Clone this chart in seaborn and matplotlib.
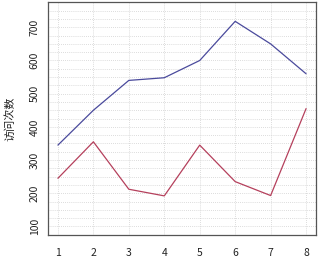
import matplotlib
matplotlib.use("Agg")
import matplotlib.pyplot as plt
import seaborn as sns
import pandas as pd
import numpy as np

x_vals = [1, 2, 3, 4, 5, 6, 7, 8]
series_a = [345, 450, 540, 548, 600, 718, 650, 560]
series_b = [245, 355, 212, 192, 345, 235, 193, 455]
y_ticks = [100, 200, 300, 400, 500, 600, 700]
y_label = "访问次数"

sns.set_theme(style="white")
plt.rcParams['font.family'] = ['Noto Sans CJK SC', 'DejaVu Sans']

df = pd.DataFrame({"x": x_vals * 2,
                   "y": series_a + series_b,
                   "s": ["a"] * len(x_vals) + ["b"] * len(x_vals)})

fig = plt.figure(figsize=(3.2, 2.6), dpi=100)
ax = fig.add_axes([0.15, 0.096, 0.8375, 0.896])

# grid
for gy in np.arange(100, 751, 25):
    ax.axhline(gy, color="#d0d0d0", lw=0.6, ls=(0, (1, 1.5)), zorder=0)
for gx in x_vals:
    ax.axvline(gx, color="#d0d0d0", lw=0.6, ls=(0, (1, 1.5)), zorder=0)

sns.lineplot(data=df, x="x", y="y", hue="s", palette={"a": "#4a4a9c", "b": "#b5405c"},
             legend=False, ax=ax, lw=0.9)

ax.set_xlim(0.72, 8.28)
ax.set_ylim(74, 776)
ax.set_xticks(x_vals)
ax.set_yticks(y_ticks)
ax.set_xticklabels([str(v) for v in x_vals], fontsize=7.5, color="#222222")
ax.set_yticklabels([str(v) for v in y_ticks], fontsize=7.5, color="#222222", rotation=90, va="center")
ax.set_xlabel("")
ax.set_ylabel(y_label, fontsize=8, color="#222222", labelpad=10)
ax.tick_params(axis="both", length=4, width=0.8, color="#555555", direction="out")
ax.tick_params(axis="x", pad=5)
ax.tick_params(axis="y", pad=2)
for sp in ax.spines.values():
    sp.set_color("#555555")
    sp.set_linewidth(0.9)

fig.savefig("out.png", dpi=100)
